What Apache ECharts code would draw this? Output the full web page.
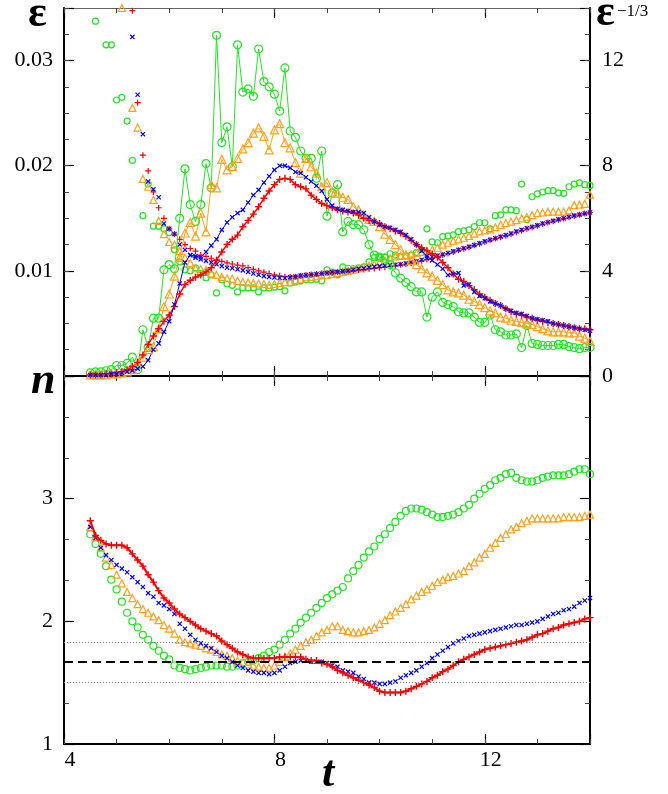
<!DOCTYPE html>
<html><head><meta charset="utf-8">
<script src="https://cdn.jsdelivr.net/npm/echarts@6.0.0/dist/echarts.min.js"></script>
<style>html,body{margin:0;padding:0;background:#fff}#c{width:668px;height:794px}</style>
</head><body><div id="c"></div>
<script>
// time samples
const t = [4.5,4.6,4.7,4.8,4.9,5.0,5.1,5.2,5.3,5.4,
5.5,5.6,5.7,5.8,5.9,6.0,6.1,6.2,6.3,6.4,
6.5,6.6,6.7,6.8,6.9,7.0,7.1,7.2,7.3,7.4,
7.5,7.6,7.7,7.8,7.9,8.0,8.1,8.2,8.3,8.4,
8.5,8.6,8.7,8.8,8.9,9.0,9.1,9.2,9.3,9.4,
9.5,9.6,9.7,9.8,9.9,10.0,10.1,10.2,10.3,10.4,
10.5,10.6,10.7,10.8,10.9,11.0,11.1,11.2,11.3,11.4,
11.5,11.6,11.7,11.8,11.9,12.0,12.1,12.2,12.3,12.4,
12.5,12.6,12.7,12.8,12.9,13.0,13.1,13.2,13.3,13.4,
13.5,13.6,13.7,13.8,13.9,14.0];

// ---- top panel: epsilon (left axis, lines) ----
const epsRed = [0.0001,0.0001,0.0001,0.0002,0.0002,0.0003,0.0004,0.0006,0.0009,0.0013,
0.0020,0.0030,0.0038,0.0045,0.0052,0.0058,0.0066,0.0078,0.0087,0.0091,
0.0094,0.0096,0.0099,0.0103,0.0110,0.0118,0.0125,0.0130,0.0134,0.0142,
0.0148,0.0154,0.0161,0.0169,0.0176,0.0182,0.0187,0.0188,0.0187,0.0182,
0.0180,0.0178,0.0172,0.0168,0.0164,0.0162,0.0160,0.0158,0.0157,0.0156,
0.0155,0.0153,0.0150,0.0148,0.0147,0.0145,0.0142,0.0140,0.0138,0.0136,
0.0133,0.0129,0.0125,0.0122,0.0119,0.0116,0.0113,0.0108,0.0103,0.0097,
0.0092,0.0090,0.0086,0.0082,0.0078,0.0075,0.0072,0.0069,0.0067,0.0064,
0.0061,0.0059,0.0058,0.0056,0.0055,0.0053,0.0052,0.0051,0.0050,0.0049,
0.0048,0.0047,0.0046,0.0045,0.0045,0.0044];
const epsBlue = [0.0001,0.0001,0.0001,0.0001,0.0002,0.0002,0.0003,0.0004,0.0005,0.0007,
0.0009,0.0015,0.0025,0.0031,0.0042,0.0052,0.0068,0.0088,0.0108,0.0115,
0.0114,0.0113,0.0118,0.0124,0.0130,0.0139,0.0146,0.0151,0.0155,0.0158,
0.0165,0.0172,0.0177,0.0184,0.0190,0.0196,0.0200,0.0200,0.0198,0.0194,
0.0193,0.0189,0.0185,0.0181,0.0176,0.0168,0.0162,0.0159,0.0158,0.0157,
0.0156,0.0156,0.0155,0.0151,0.0147,0.0144,0.0142,0.0141,0.0139,0.0137,
0.0134,0.0130,0.0125,0.0119,0.0114,0.0110,0.0106,0.0102,0.0096,0.0097,
0.0098,0.0086,0.0087,0.0080,0.0076,0.0074,0.0071,0.0069,0.0067,0.0064,
0.0062,0.0060,0.0059,0.0057,0.0055,0.0054,0.0053,0.0052,0.0050,0.0049,
0.0048,0.0047,0.0046,0.0045,0.0044,0.0043];
const epsOrange = [0.0001,0.0001,0.0001,0.0001,0.0002,0.0002,0.0003,0.0004,0.0006,0.0012,
0.0018,0.0025,0.0028,0.0045,0.0066,0.0078,0.0095,0.0113,0.0136,0.0146,
0.0133,0.0155,0.0137,0.0182,0.0179,0.0206,0.0196,0.0199,0.0207,0.0216,
0.0222,0.0231,0.0236,0.0228,0.0215,0.0234,0.0240,0.0222,0.0217,0.0203,
0.0193,0.0207,0.0199,0.0193,0.0180,0.0184,0.0175,0.0174,0.0170,0.0168,
0.0161,0.0158,0.0153,0.0149,0.0147,0.0142,0.0135,0.0130,0.0125,0.0120,
0.0115,0.0110,0.0106,0.0102,0.0098,0.0095,0.0091,0.0087,0.0082,0.0080,
0.0079,0.0077,0.0073,0.0071,0.0068,0.0065,0.0062,0.0060,0.0056,0.0055,
0.0053,0.0052,0.0051,0.0050,0.0049,0.0047,0.0045,0.0043,0.0042,0.0042,
0.0042,0.0041,0.0041,0.0038,0.0036,0.0033];
const epsGreen = [0.0003,0.0004,0.0004,0.0005,0.0006,0.0010,0.0010,0.0012,0.0018,0.0006,
0.0044,0.0027,0.0055,0.0055,0.0101,0.0106,0.0102,0.0150,0.0197,0.0163,
0.0147,0.0163,0.0202,0.0179,0.0324,0.0222,0.0237,0.0199,0.0315,0.0270,
0.0273,0.0266,0.0311,0.0280,0.0275,0.0268,0.0252,0.0293,0.0233,0.0227,
0.0214,0.0207,0.0207,0.0188,0.0214,0.0152,0.0174,0.0182,0.0137,0.0147,
0.0144,0.0144,0.0139,0.0125,0.0115,0.0113,0.0112,0.0106,0.0098,0.0093,
0.0089,0.0085,0.0080,0.0080,0.0056,0.0075,0.0080,0.0070,0.0068,0.0066,
0.0061,0.0060,0.0060,0.0056,0.0051,0.0051,0.0058,0.0044,0.0042,0.0039,
0.0039,0.0040,0.0027,0.0048,0.0031,0.0030,0.0029,0.0029,0.0029,0.0030,
0.0030,0.0028,0.0027,0.0026,0.0027,0.0027];

// ---- top panel: epsilon^(-1/3) (right axis, markers only) ----
const invRed = [null,null,null,null,null,null,null,null,13.9,10.4,
8.4,7.8,7.0,6.4,6.0,5.6,5.4,5.2,5.0,4.85,
4.75,4.6,4.55,4.48,4.42,4.36,4.3,4.26,4.22,4.19,
4.12,4.06,4.0,3.95,3.9,3.85,3.81,3.78,3.77,3.78,
3.81,3.84,3.86,3.88,3.9,3.92,3.94,3.96,3.98,3.99,
4.01,4.03,4.05,4.07,4.09,4.12,4.14,4.17,4.2,4.23,
4.26,4.3,4.34,4.38,4.43,4.48,4.55,4.6,4.66,4.72,
4.78,4.84,4.9,4.97,5.03,5.1,5.17,5.23,5.28,5.34,
5.4,5.47,5.53,5.6,5.66,5.72,5.78,5.84,5.89,5.94,
5.99,6.04,6.09,6.13,6.18,6.22];
const invBlue = [null,null,null,null,null,null,null,null,12.9,10.7,
9.2,7.4,7.1,6.8,5.8,5.6,5.4,5.0,4.8,4.6,
4.5,4.44,4.38,4.32,4.25,4.18,4.12,4.1,4.06,4.02,
3.96,3.9,3.85,3.8,3.77,3.75,3.73,3.73,3.76,3.78,
3.82,3.84,3.86,3.88,3.9,3.92,3.95,3.96,3.98,4.0,
4.04,4.08,4.1,4.14,4.16,4.18,4.2,4.22,4.23,4.25,
4.28,4.32,4.36,4.42,4.48,4.53,4.58,4.62,4.68,4.74,
4.8,4.86,4.92,4.98,5.05,5.12,5.18,5.24,5.3,5.36,
5.42,5.5,5.56,5.62,5.67,5.73,5.8,5.85,5.9,5.96,
6.0,6.05,6.1,6.14,6.18,6.22];
const invOrange = [null,null,null,null,null,null,14.0,null,10.2,9.45,
7.5,7.2,6.7,5.9,5.4,5.1,5.0,4.75,4.5,4.3,
4.1,4.07,4.04,3.9,3.85,3.77,3.72,3.7,3.62,3.58,
3.56,3.54,3.52,3.5,3.47,3.5,3.54,3.56,3.58,3.65,
3.7,3.75,3.77,3.8,3.83,3.85,3.88,3.92,3.96,4.0,
4.05,4.1,4.15,4.2,4.25,4.32,4.4,4.48,4.55,4.57,
4.6,4.62,4.68,4.72,4.76,4.8,4.88,5.0,5.07,5.14,
5.2,5.26,5.33,5.42,5.5,5.54,5.58,5.66,5.75,5.82,
5.87,5.93,6.0,6.05,6.12,6.2,6.22,6.25,6.25,6.25,
6.25,6.3,6.5,6.52,6.55,6.9];
const invGreen = [null,13.5,null,12.6,12.6,10.5,10.6,9.7,8.2,null,
6.1,7.3,5.7,5.7,5.6,5.45,4.8,4.34,4.04,4.0,
4.11,3.9,3.73,3.85,3.16,3.66,3.5,3.45,3.2,3.35,
3.35,3.35,3.2,3.35,3.35,3.38,3.4,3.24,3.54,3.58,
3.62,3.66,3.66,3.68,3.62,4.04,3.95,3.85,4.15,4.1,
4.08,4.11,4.15,4.34,4.5,4.52,4.53,4.65,4.6,4.55,
4.58,4.6,4.7,4.8,5.6,5.1,5.07,5.3,5.33,5.37,
5.49,5.52,5.56,5.68,5.83,5.83,5.6,6.1,6.13,6.32,
6.32,6.29,7.3,5.95,6.82,6.93,7.0,7.05,7.05,6.97,
6.95,7.2,7.3,7.35,7.28,7.25];

// ---- bottom panel: n ----
const nGreen = [2.71,2.63,2.55,2.45,2.34,2.26,2.16,2.07,2.00,1.95,
1.89,1.85,1.80,1.76,1.72,1.69,1.64,1.62,1.61,1.60,
1.61,1.62,1.63,1.64,1.64,1.64,1.63,1.63,1.64,1.66,
1.67,1.68,1.70,1.72,1.75,1.77,1.81,1.85,1.90,1.94,
1.99,2.03,2.07,2.11,2.15,2.19,2.22,2.25,2.28,2.35,
2.41,2.46,2.52,2.57,2.61,2.67,2.71,2.76,2.81,2.86,
2.90,2.92,2.92,2.91,2.89,2.87,2.85,2.85,2.86,2.87,
2.89,2.92,2.95,3.00,3.04,3.08,3.11,3.15,3.17,3.20,
3.21,3.17,3.15,3.14,3.14,3.15,3.17,3.18,3.19,3.19,
3.19,3.20,3.22,3.24,3.24,3.20];
const nOrange = [2.77,2.69,2.60,2.52,2.46,2.38,2.31,2.24,2.19,2.14,
2.10,2.07,2.04,2.01,1.97,1.94,1.90,1.85,1.83,1.82,
1.81,1.80,1.78,1.77,1.75,1.73,1.72,1.70,1.68,1.67,
1.65,1.64,1.63,1.62,1.62,1.64,1.67,1.71,1.74,1.77,
1.80,1.83,1.85,1.88,1.91,1.93,1.96,1.96,1.93,1.92,
1.91,1.91,1.92,1.93,1.95,1.98,2.01,2.05,2.08,2.11,
2.14,2.18,2.21,2.24,2.26,2.29,2.32,2.34,2.36,2.37,
2.39,2.41,2.45,2.48,2.52,2.55,2.60,2.64,2.68,2.71,
2.75,2.77,2.80,2.82,2.84,2.84,2.84,2.84,2.84,2.84,
2.85,2.85,2.85,2.85,2.86,2.87];
const nBlue = [2.77,2.68,2.60,2.54,2.50,2.46,2.43,2.40,2.36,2.32,
2.28,2.23,2.20,2.15,2.13,2.10,2.06,1.98,1.94,1.89,
1.85,1.82,1.80,1.78,1.75,1.72,1.70,1.67,1.64,1.62,
1.60,1.59,1.58,1.58,1.57,1.58,1.60,1.63,1.66,1.67,
1.68,1.68,1.67,1.67,1.67,1.66,1.64,1.63,1.60,1.59,
1.58,1.55,1.53,1.50,1.50,1.49,1.49,1.50,1.51,1.54,
1.56,1.58,1.60,1.63,1.66,1.70,1.73,1.76,1.79,1.82,
1.84,1.86,1.88,1.89,1.90,1.91,1.92,1.93,1.94,1.95,
1.96,1.97,1.97,1.98,1.99,2.00,2.02,2.04,2.06,2.07,
2.09,2.10,2.12,2.15,2.17,2.19];
const nRed = [2.82,2.70,2.66,2.63,2.62,2.62,2.62,2.60,2.55,2.50,
2.45,2.38,2.32,2.25,2.19,2.15,2.10,2.06,2.03,2.00,
1.97,1.94,1.92,1.90,1.88,1.84,1.81,1.78,1.75,1.73,
1.71,1.70,1.70,1.70,1.70,1.70,1.71,1.71,1.71,1.71,
1.71,1.69,1.68,1.68,1.66,1.65,1.63,1.60,1.58,1.56,
1.54,1.52,1.50,1.48,1.46,1.43,1.42,1.42,1.42,1.42,
1.43,1.45,1.47,1.49,1.51,1.54,1.56,1.59,1.61,1.64,
1.67,1.69,1.71,1.73,1.75,1.77,1.78,1.79,1.80,1.81,
1.82,1.83,1.84,1.85,1.87,1.89,1.90,1.92,1.94,1.95,
1.97,1.98,1.99,2.00,2.02,2.03];

// reference levels of n
const nDashed = [1.667];
const nDotted = [1.5, 1.833];

// axis tick values
const tLabels = [4, 8, 12];
const epsLabels = [0.01, 0.02, 0.03];
const invLabels = [0, 4, 8, 12];
const nLabels = [1, 2, 3];

const RED = '#ff0000', BLUE = '#0000ff', ORANGE = '#ffa31a', GREEN = '#22e622';
const FONT = '"Liberation Serif", "Times New Roman", serif';
const PLUS = 'path://M4,0H6V4H10V6H6V10H4V6H0V4H4Z';

const pts = ys => t.map((x, i) => [x, ys[i]]).filter(p => p[1] !== null && p[1] !== undefined);

const major = {show: true, inside: true, length: 10, lineStyle: {color: '#000', width: 1.2}};
const minor = {show: true, inside: true, length: 5, lineStyle: {color: '#444', width: 1}};
const noLine = {show: false, onZero: false};
const blk = {show: true, onZero: false, lineStyle: {color: '#000', width: 2}};
const near = (v, list) => list.some(x => Math.abs(x - v) < 1e-6);
const lab = (list, fmt, extra) => Object.assign({
  show: true, fontFamily: FONT, fontSize: 22, color: '#000',
  formatter: v => near(v, list) ? fmt(v) : ''
}, extra || {});
const off = {show: false};

function xa(grid, pos, interval, isMajor, line, label) {
  return {type: 'value', gridIndex: grid, position: pos, min: 4, max: 14, interval: interval,
    axisLine: line, axisTick: isMajor ? major : minor, axisLabel: label || off,
    splitLine: off, minorTick: off};
}
function ya(grid, pos, min, max, interval, isMajor, line, label, extra) {
  return Object.assign({type: 'value', gridIndex: grid, position: pos, min: min, max: max, interval: interval,
    axisLine: line, axisTick: isMajor ? major : minor, axisLabel: label || off,
    splitLine: off, minorTick: off}, extra || {});
}

const xAxis = [
  xa(0, 'bottom', 4, true, blk),
  xa(0, 'bottom', 1, false, noLine),
  xa(0, 'top', 4, true, {show: true, onZero: false, lineStyle: {color: '#666', width: 1}}),
  xa(0, 'top', 1, false, noLine),
  xa(1, 'bottom', 4, true, blk, lab(tLabels, v => String(v), {margin: 5, padding: [0, 0, 0, 12]})),
  xa(1, 'bottom', 1, false, noLine),
  xa(1, 'top', 4, true, blk),
  xa(1, 'top', 1, false, noLine)
];
const yAxis = [
  ya(0, 'left', 0, 0.035, 0.01, true, blk, lab(epsLabels, v => v.toFixed(2), {margin: 11, padding: [0, 0, 6, 0]})),
  ya(0, 'left', 0, 0.035, 0.0025, false, noLine),
  ya(0, 'right', 0, 14, 4, true, blk, lab(invLabels, v => String(v), {margin: 12, padding: [0, 0, 6, 0]})),
  ya(0, 'right', 0, 14, 1, false, noLine),
  ya(1, 'left', 1, 4, 1, true, blk, lab(nLabels, v => String(v), {margin: 11, padding: [0, 0, 4, 0]}),
     {minorTick: {show: true, splitNumber: 3, length: 5, lineStyle: {color: '#444', width: 1}}}),
  ya(1, 'right', 1, 4, 1, true, blk, off,
     {minorTick: {show: true, splitNumber: 3, length: 5, lineStyle: {color: '#444', width: 1}}})
];

function epsLine(data, color, symbol, size, rot, lw) {
  const filled = symbol === PLUS;
  return {type: 'line', xAxisIndex: 0, yAxisIndex: 0, data: pts(data), symbol: symbol, symbolSize: size,
    symbolRotate: rot || 0, showAllSymbol: true, clip: true,
    lineStyle: {color: color, width: lw || 1},
    itemStyle: filled ? {color: color} : {color: 'rgba(0,0,0,0)', borderColor: color, borderWidth: 1.2},
    emphasis: {disabled: true}};
}
function dots(data, xi, yi, color, symbol, size, rot) {
  const filled = symbol === PLUS;
  return {type: 'scatter', xAxisIndex: xi, yAxisIndex: yi, data: pts(data), symbol: symbol, symbolSize: size,
    symbolRotate: rot || 0, clip: true,
    itemStyle: filled ? {color: color, opacity: 1} : {color: 'rgba(0,0,0,0)', borderColor: color, borderWidth: 1.2, opacity: 1},
    emphasis: {disabled: true}};
}

const refLines = {
  silent: true, symbol: ['none', 'none'], label: {show: false},
  data: nDashed.map(v => ({yAxis: v, lineStyle: {type: [9, 5], color: '#000', width: 2}}))
    .concat(nDotted.map(v => ({yAxis: v, lineStyle: {type: [1, 2], color: '#888', width: 1}})))
};

const bGreen = dots(nGreen, 4, 4, GREEN, 'circle', 7);
bGreen.markLine = refLines;

// red n: dense "+" band in the original, drawn as a band of markers on a thin line
const bRed = {type: 'line', xAxisIndex: 4, yAxisIndex: 4, data: pts(nRed), symbol: PLUS, symbolSize: 7,
  showAllSymbol: true, clip: true, lineStyle: {color: RED, width: 2}, itemStyle: {color: RED},
  emphasis: {disabled: true}};

const series = [
  epsLine(epsGreen, GREEN, 'circle', 8),
  dots(invGreen, 0, 2, GREEN, 'circle', 6),
  epsLine(epsOrange, ORANGE, 'triangle', 8),
  dots(invOrange, 0, 2, ORANGE, 'triangle', 7),
  epsLine(epsRed, RED, PLUS, 7, 0, 1.5),
  dots(invRed, 0, 2, RED, PLUS, 6),
  epsLine(epsBlue, BLUE, PLUS, 6, 45),
  dots(invBlue, 0, 2, BLUE, PLUS, 6, 45),
  bGreen,
  dots(nOrange, 4, 4, ORANGE, 'triangle', 7),
  bRed,
  dots(nBlue, 4, 4, BLUE, PLUS, 6, 45)
];

const graphic = [
  {type: 'text', x: 28, y: 15, style: {text: 'ε', font: 'bold 44px ' + FONT, fill: '#000', align: 'left', verticalAlign: 'middle'}},
  {type: 'text', x: 596, y: 14, style: {text: 'ε', font: 'bold 44px ' + FONT, fill: '#000', align: 'left', verticalAlign: 'middle'}},
  {type: 'text', x: 617, y: 12, style: {text: '\u22121/3', font: '17px ' + FONT, fill: '#000', align: 'left', verticalAlign: 'middle'}},
  {type: 'text', x: 31, y: 382, style: {text: 'n', font: 'italic bold 44px ' + FONT, fill: '#000', align: 'left', verticalAlign: 'middle'}},
  {type: 'text', x: 328, y: 775, style: {text: 't', font: 'italic bold 44px ' + FONT, fill: '#000', align: 'center', verticalAlign: 'middle'}}
];

const chart = echarts.init(document.getElementById('c'), null, {renderer: 'canvas', width: 668, height: 794});
chart.setOption({
  animation: false,
  backgroundColor: '#fff',
  grid: [
    {left: 64, top: 8, width: 526, height: 368, containLabel: false},
    {left: 64, top: 376, width: 526, height: 368, containLabel: false}
  ],
  xAxis: xAxis,
  yAxis: yAxis,
  series: series,
  graphic: graphic
});
</script></body></html>
